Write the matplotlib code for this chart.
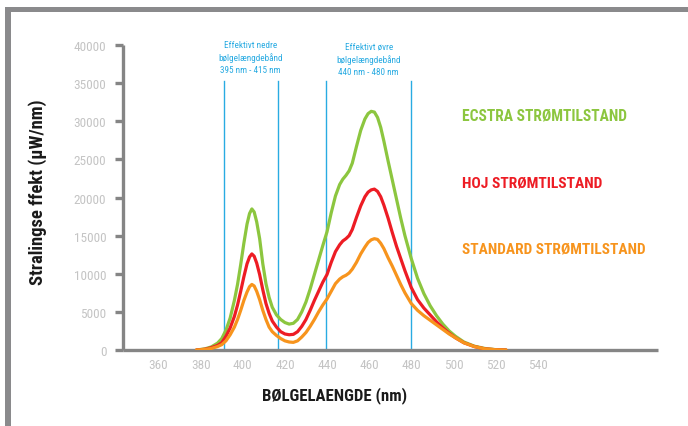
import matplotlib
matplotlib.use("Agg")
import matplotlib.pyplot as plt
from matplotlib.patches import Rectangle
from matplotlib import font_manager
from matplotlib.font_manager import FontProperties

# ---- data ----
wavelength = [378, 382, 385, 388, 390, 392, 394, 396, 397.5, 399, 400.5, 402, 403.2, 404.3, 405.4,
              406.6, 408, 409.5, 411, 412.5, 414, 416, 418, 420, 422, 424, 426, 428, 430, 432,
              434, 436, 438, 440, 442, 444, 446, 447.5, 449, 450.5, 452, 454, 456, 458, 459.5,
              461, 462.5, 464, 465.5, 467, 469, 471, 473, 475, 477, 480, 483, 486, 489, 492,
              495, 498, 501, 505, 510, 515, 520, 525]
ekstra = [0, 0.15, 0.4, 0.9, 1.5, 2.6, 4.2, 6.5, 8.6, 11.2, 14.0, 16.5, 17.9, 18.5, 18.1,
          16.8, 14.6, 11.3, 8.7, 6.9, 5.6, 4.6, 4.0, 3.6, 3.4, 3.5, 4.0, 5.0, 6.3, 8.0,
          9.9, 11.8, 13.7, 15.5, 18.0, 20.2, 21.7, 22.4, 22.9, 23.5, 24.5, 26.7, 28.8, 30.3, 31.0,
          31.3, 31.2, 30.5, 29.2, 27.4, 24.8, 22.3, 19.8, 17.3, 15.0, 12.0, 9.4, 7.4, 5.8, 4.5,
          3.4, 2.5, 1.8, 1.05, 0.5, 0.2, 0.05, 0]
hoj = [0, 0.1, 0.3, 0.6, 0.95, 1.8, 2.9, 4.4, 5.9, 7.7, 9.6, 11.3, 12.2, 12.6, 12.3,
       11.4, 9.9, 7.9, 6.1, 4.8, 3.8, 3.0, 2.4, 2.1, 2.0, 2.05, 2.4, 3.1, 4.0, 5.2,
       6.5, 7.7, 8.9, 9.9, 11.5, 12.9, 13.8, 14.3, 14.6, 15.0, 15.8, 17.4, 18.9, 20.1, 20.7,
       21.0, 21.1, 20.8, 20.1, 19.0, 17.3, 15.4, 13.6, 12.0, 10.4, 8.2, 6.6, 5.5, 4.6, 3.7,
       2.9, 2.2, 1.6, 0.95, 0.45, 0.15, 0.04, 0]
standard = [0, 0.08, 0.2, 0.45, 0.7, 1.2, 2.0, 3.0, 4.0, 5.2, 6.5, 7.6, 8.3, 8.6, 8.4,
            7.7, 6.6, 5.2, 4.0, 3.0, 2.4, 1.9, 1.5, 1.2, 1.05, 1.0, 1.2, 1.7, 2.3, 3.1,
            4.0, 5.0, 5.9, 6.7, 7.7, 8.7, 9.3, 9.6, 9.8, 10.1, 10.6, 11.5, 12.6, 13.5, 14.1,
            14.45, 14.6, 14.5, 14.0, 13.3, 12.1, 11.0, 9.8, 8.6, 7.5, 6.1, 5.2, 4.5, 3.9, 3.3,
            2.7, 2.1, 1.6, 0.95, 0.45, 0.15, 0.04, 0]
band_lines = [391, 416.5, 439.5, 480]
x_ticks = [360, 380, 400, 420, 440, 460, 480, 500, 520, 540]
y_ticks = [0, 5000, 10000, 15000, 20000, 25000, 30000, 35000, 40000]
series_labels = ["ECSTRA STRØMTILSTAND", "HOJ STRØMTILSTAND", "STANDARD STRØMTILSTAND"]

GREEN = "#8CC63F"
RED = "#ED1C24"
ORANGE = "#F7941D"
BLUE = "#29ABE2"
AXGRAY = "#858585"
TICKGRAY = "#c4c4c4"


def find_condensed(bold):
    cands = []
    for f in font_manager.fontManager.ttflist:
        st = str(f.stretch).lower()
        fn = f.fname.lower()
        cond = ("condensed" in st) or ("condensed" in fn) or ("narrow" in fn) or ("narrow" in f.name.lower())
        if not cond or "extra" in fn or "ultra" in fn or "semi" in fn:
            continue
        w = f.weight if isinstance(f.weight, int) else (700 if "bold" in str(f.weight) else 400)
        isbold = w >= 600 or "bold" in fn
        if isbold != bold or "italic" in fn or "oblique" in fn or f.style != "normal":
            continue
        pref = 9
        for i, nm in enumerate(["liberation", "roboto", "open", "noto", "dejavu"]):
            if nm in fn:
                pref = i
                break
        cands.append((pref, f.fname))
    cands.sort()
    return cands[0][1] if cands else None


fb = find_condensed(True)
fr = find_condensed(False)


def fp(bold, size):
    path = fb if bold else fr
    if path:
        return FontProperties(fname=path, size=size)
    return FontProperties(family="DejaVu Sans", weight="bold" if bold else "normal", size=size)


W, H = 688, 427
fig = plt.figure(figsize=(W / 100, H / 100), dpi=100)
fig.patch.set_facecolor("white")

fig.patches.append(Rectangle((5 / W, 1 - 13 / H), 1 - 5 / W, 5 / H, transform=fig.transFigure,
                             facecolor="#8a8a8c", edgecolor="none"))
fig.patches.append(Rectangle((5 / W, 0), 6 / W, 1 - 8 / H, transform=fig.transFigure,
                             facecolor="#8a8a8c", edgecolor="none"))

ax = fig.add_axes([123 / W, 1 - 351 / H, (658 - 123) / W, (351 - 46) / H])
ax.set_xlim(343.1, 597.2)
ax.set_ylim(0, 40000)

for v in band_lines:
    ax.plot([v, v], [0, 35300], color=BLUE, lw=1.0, zorder=2)

k = 1000
for vals, col in [(ekstra, GREEN), (hoj, RED), (standard, ORANGE)]:
    ax.plot(wavelength, [v * k for v in vals], color=col, lw=2.3,
            solid_joinstyle="round", solid_capstyle="round", zorder=3)

for s in ["top", "right"]:
    ax.spines[s].set_visible(False)
for s in ["left", "bottom"]:
    ax.spines[s].set_color(AXGRAY)
    ax.spines[s].set_linewidth(2.4)
    ax.spines[s].set_capstyle("butt")

ax.set_yticks(y_ticks)
ax.set_yticklabels([str(t) for t in y_ticks])
ax.set_xticks(x_ticks)
ax.set_xticklabels([str(t) for t in x_ticks])
for lab in ax.get_xticklabels() + ax.get_yticklabels():
    lab.set_fontproperties(fp(False, 9.5))
    lab.set_color(TICKGRAY)
ax.tick_params(axis="y", direction="out", length=6, width=2.4, color=AXGRAY, pad=6)
ax.tick_params(axis="x", length=0, pad=6)

t1 = ax.text(403.5, 38400, "Effektivt nedre\nbølgelængdebånd\n395 nm - 415 nm", ha="center", va="center",
             fontproperties=fp(False, 8), color=BLUE, linespacing=1.4)
t2 = ax.text(459.8, 38200, "Effektivt øvre\nbølgelængdebånd\n440 nm - 480 nm", ha="center", va="center",
             fontproperties=fp(False, 8), color=BLUE, linespacing=1.4)

labels = []
for lab, col, yy, wpx in zip(series_labels, [GREEN, RED, ORANGE], [116, 184, 250], [165, 140, 184]):
    t = fig.text(462 / W, 1 - yy / H, lab, ha="left", va="center",
                 fontproperties=fp(True, 13), color=col)
    labels.append((t, wpx))

ylab = fig.text(38 / W, 1 - 192 / H, "Stralingse ffekt (µW/nm)", rotation=90, ha="center", va="center",
                fontproperties=fp(True, 12.5), color="#1a1a1a")
xlab = fig.text(335 / W, 1 - 396 / H, "BØLGELAENGDE (nm)", ha="center", va="center",
                fontproperties=fp(True, 13), color="#1a1a1a")

# fit text widths to the reference widths
fig.canvas.draw()
r = fig.canvas.get_renderer()
for t, wpx in labels + [(xlab, 144)]:
    bb = t.get_window_extent(r)
    t.set_fontsize(t.get_fontsize() * wpx / bb.width)
bb = ylab.get_window_extent(r)
ylab.set_fontsize(ylab.get_fontsize() * 186 / bb.height)
bb = t1.get_window_extent(r)
for t in (t1, t2):
    t.set_fontsize(t.get_fontsize() * 64 / bb.width)

fig.savefig("out.png", dpi=100, facecolor="white")
